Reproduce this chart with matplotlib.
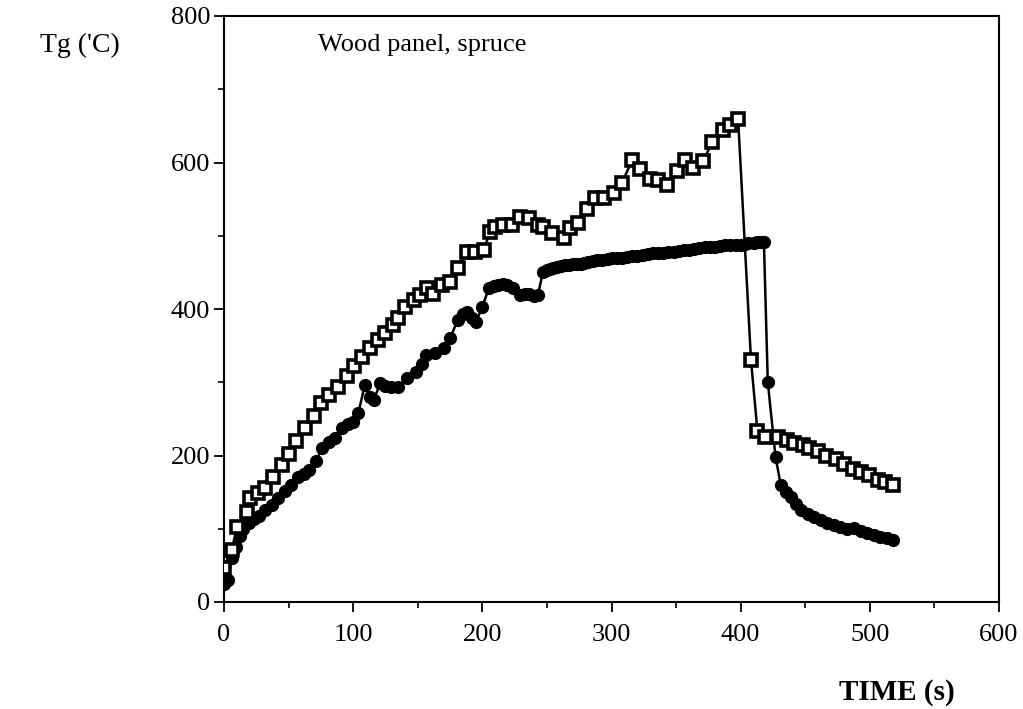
import matplotlib
matplotlib.use("Agg")
import matplotlib.pyplot as plt
from matplotlib.ticker import MultipleLocator

# Open-square series (gas temperature, upper curve)
t_sq = [0, 6, 10, 18, 20, 26, 32, 38, 45, 50, 56, 63, 70, 75, 81, 88, 95, 101, 107, 113,
        119, 125, 131, 135, 140, 147, 152, 157, 162, 169, 175, 181, 188, 194, 201, 206,
        210, 216, 223, 229, 236, 243, 247, 254, 263, 268, 274, 281, 287, 294, 302, 308,
        316, 322, 330, 336, 343, 351, 357, 363, 371, 378, 386, 392, 398, 408, 413, 419,
        429, 436, 441, 448, 453, 460, 466, 474, 480, 487, 493, 499, 506, 512, 518]
T_sq = [46, 71, 102, 123, 142, 149, 156, 170, 187, 202, 220, 238, 254, 272, 283, 293, 308,
        322, 335, 347, 357, 367, 378, 388, 403, 412, 419, 428, 421, 433, 437, 456, 478, 478,
        481, 505, 512, 515, 515, 526, 524, 515, 512, 504, 497, 510, 517, 537, 551, 551, 558,
        572, 603, 591, 577, 576, 569, 588, 603, 592, 602, 628, 644, 651, 660, 330, 233, 225,
        225, 221, 217, 214, 210, 206, 199, 195, 189, 182, 178, 173, 167, 164, 160]

# Filled series (lower curve)
t_fd = [0, 3, 6, 9, 12, 15, 19, 23, 27, 32, 37, 42, 47, 52, 57, 62, 66, 71, 76, 81, 86, 91,
        96, 100, 104, 109, 113, 116, 121, 125, 129, 135, 142, 149, 153, 156, 163, 170, 175,
        181, 185, 188, 192, 195, 200, 205, 209, 212, 216, 219, 224, 229, 233, 236, 240, 243,
        247, 250, 252, 255, 258, 261, 264, 267, 270, 273, 276, 279, 282, 286, 289, 293, 297,
        300, 304, 308, 312, 316, 320, 324, 328, 332, 336, 340, 344, 348, 352, 356, 360, 364,
        368, 372, 376, 380, 384, 388, 392, 396, 400, 403, 406, 410, 413, 416, 418, 421, 427,
        431, 435, 439, 443, 447, 452, 457, 462, 467, 472, 477, 482, 488, 493, 498, 503, 508,
        513, 518]
T_fd = [25, 30, 60, 75, 90, 100, 108, 113, 118, 125, 133, 142, 152, 160, 170, 175, 180, 192,
        210, 218, 224, 238, 243, 246, 258, 296, 280, 276, 299, 295, 294, 294, 306, 314, 325,
        337, 340, 347, 360, 385, 393, 396, 388, 382, 403, 428, 431, 433, 434, 433, 428, 419,
        421, 420, 418, 419, 451, 453, 455, 456, 458, 459, 460, 460, 461, 461, 462, 463, 464,
        466, 467, 467, 468, 469, 470, 470, 471, 472, 473, 474, 475, 476, 477, 477, 478, 478,
        479, 480, 481, 482, 483, 484, 485, 485, 486, 487, 487, 488, 488, 489, 490, 490, 491,
        492, 491, 300, 198, 160, 150, 143, 134, 126, 120, 116, 112, 108, 105, 103, 100, 101,
        97, 94, 91, 89, 87, 85]

x_ticks = [0, 100, 200, 300, 400, 500, 600]
y_ticks = [0, 200, 400, 600, 800]

serif = ["Liberation Serif", "DejaVu Serif"]
plt.rcParams["font.family"] = serif

fig = plt.figure(figsize=(10.23, 7.09), dpi=100)
ax = fig.add_axes([224 / 1023, 1 - 602 / 709, (999 - 224) / 1023, (602 - 16) / 709])

ax.plot(t_fd, T_fd, color="black", lw=1.8, marker="o", ms=8.5, mfc="black", mec="black",
        zorder=2)
ax.plot(t_sq, T_sq, color="black", lw=1.8, marker="s", ms=9, mfc="white", mec="black",
        mew=2.6, zorder=3)

ax.set_xlim(0, 600)
ax.set_ylim(0, 800)
ax.set_xticks(x_ticks)
ax.set_yticks(y_ticks)
ax.xaxis.set_minor_locator(MultipleLocator(50))
ax.yaxis.set_minor_locator(MultipleLocator(100))
ax.tick_params(axis="both", which="major", direction="out", length=7, width=1.3,
               labelsize=19)
ax.tick_params(axis="x", which="major", pad=9)
ax.tick_params(axis="y", which="major", pad=3)
ax.tick_params(axis="both", which="minor", direction="out", length=4, width=1.2)
for s in ax.spines.values():
    s.set_linewidth(1.5)

ax.text(73, 760, "Wood panel, spruce", fontsize=19, ha="left", va="center")
fig.text(40 / 1023, 1 - 45 / 709, "Tg ('C)", fontsize=20, ha="left", va="center")
fig.text(897 / 1023, 1 - 692 / 709, "TIME (s)", fontsize=21, fontweight="bold",
         ha="center", va="center")

fig.savefig("out.png", dpi=100)
